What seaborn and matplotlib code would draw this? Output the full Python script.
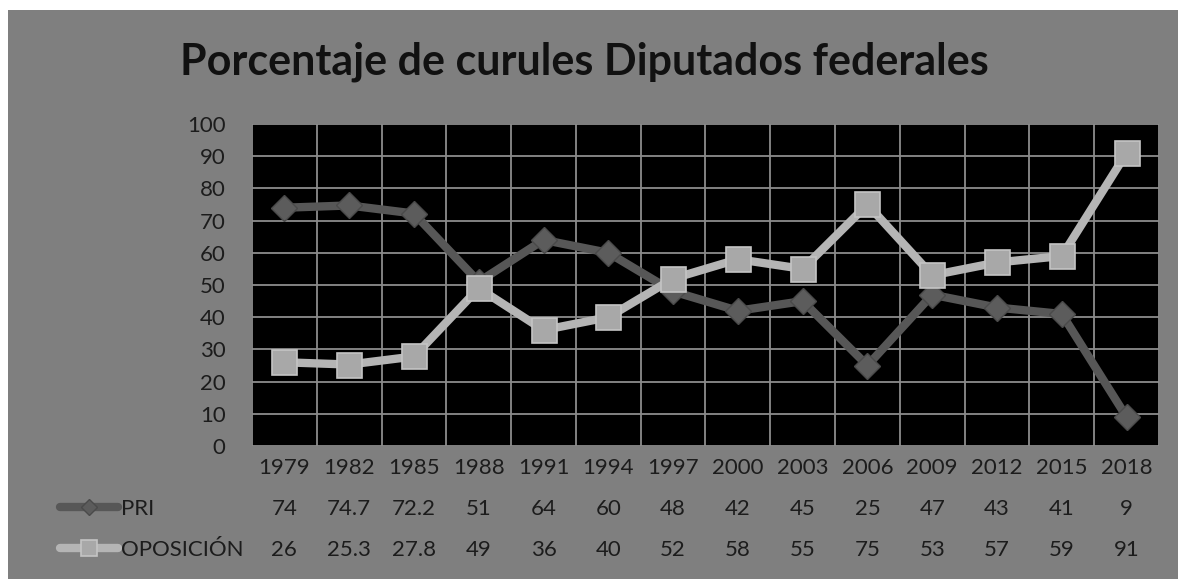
import numpy as np
import pandas as pd
import matplotlib
matplotlib.use('Agg')
import matplotlib.pyplot as plt
import matplotlib.transforms as mtransforms
from matplotlib.patches import Rectangle
import seaborn as sns

# datos de la gráfica
anios = ['1979', '1982', '1985', '1988', '1991', '1994', '1997',
         '2000', '2003', '2006', '2009', '2012', '2015', '2018']
pri = [74, 74.7, 72.2, 51, 64, 60, 48, 42, 45, 25, 47, 43, 41, 9]
oposicion = [26, 25.3, 27.8, 49, 36, 40, 52, 58, 55, 75, 53, 57, 59, 91]
etiquetas_pri = ['74', '74.7', '72.2', '51', '64', '60', '48', '42', '45', '25', '47', '43', '41', '9']
etiquetas_opo = ['26', '25.3', '27.8', '49', '36', '40', '52', '58', '55', '75', '53', '57', '59', '91']

df = pd.DataFrame({'anio': anios, 'PRI': pri, 'OPOSICIÓN': oposicion})

sns.set_style('dark')
plt.rcParams['font.family'] = ['Lato', 'DejaVu Sans']
color_texto = '#1c1c1c'
fondo = '#7f7f7f'

fig = plt.figure(figsize=(11.78, 5.79), dpi=100, facecolor='white')
# fondo gris del gráfico (borde blanco arriba e izquierda)
fig.patches.append(Rectangle((8 / 1178, 0), 1 - 8 / 1178, 1 - 10 / 579,
                             transform=fig.transFigure, facecolor=fondo,
                             edgecolor='none', zorder=-10))

ax = fig.add_axes([252 / 1178, (579 - 446) / 579, (1159 - 252) / 1178, (446 - 124) / 579])
ax.set_facecolor('black')

sns.lineplot(data=df, x='anio', y='PRI', ax=ax, color='#575757', linewidth=6,
             marker='D', markersize=13, markerfacecolor='#5c5c5c',
             markeredgecolor='#4a4a4a', markeredgewidth=1, label='PRI', zorder=3)
sns.lineplot(data=df, x='anio', y='OPOSICIÓN', ax=ax, color='#b5b5b5', linewidth=6,
             marker='s', markersize=18, markerfacecolor='#a8a8a8',
             markeredgecolor='#c4c4c4', markeredgewidth=1.2, label='OPOSICIÓN', zorder=4)

ax.set_xlim(-0.5, len(anios) - 0.5)
ax.set_ylim(0, 100)
ax.set_yticks(np.arange(0, 101, 10))
ax.set_xticks(np.arange(-0.5, len(anios)), minor=True)
ax.grid(False)
ax.grid(True, which='minor', axis='x', color='#8c8c8c', linewidth=1.3)
ax.grid(True, which='major', axis='y', color='#8c8c8c', linewidth=1.3)
ax.set_axisbelow(True)
ax.tick_params(axis='both', which='both', length=0)
ax.tick_params(axis='y', pad=19, labelsize=16, labelcolor=color_texto)
ax.tick_params(axis='x', pad=9, labelsize=16, labelcolor=color_texto)
ax.set_xlabel('')
ax.set_ylabel('')
for s in ax.spines.values():
    s.set_visible(False)

# tabla de datos debajo del eje
trans = mtransforms.blended_transform_factory(ax.transData, fig.transFigure)
for i in range(len(anios)):
    ax.text(i, (579 - 509) / 579, etiquetas_pri[i], transform=trans, ha='center',
            va='center', fontsize=16, color=color_texto)
    ax.text(i, (579 - 550) / 579, etiquetas_opo[i], transform=trans, ha='center',
            va='center', fontsize=16, color=color_texto)

ax.get_legend().remove()
handles, labels = ax.get_legend_handles_labels()
fig.legend(handles, labels, loc='center left', bbox_to_anchor=(60 / 1178, (579 - 529.5) / 579),
           frameon=False, fontsize=16, handlelength=2.6, handletextpad=0.15,
           labelspacing=0.95, borderpad=0, borderaxespad=0, markerscale=0.65,
           labelcolor=color_texto)

fig.text(0.496, (579 - 62) / 579, 'Porcentaje de curules Diputados federales',
         ha='center', va='center', fontsize=31, fontweight='bold', color='#111111')

fig.savefig('out.png', dpi=100, facecolor=fig.get_facecolor())
